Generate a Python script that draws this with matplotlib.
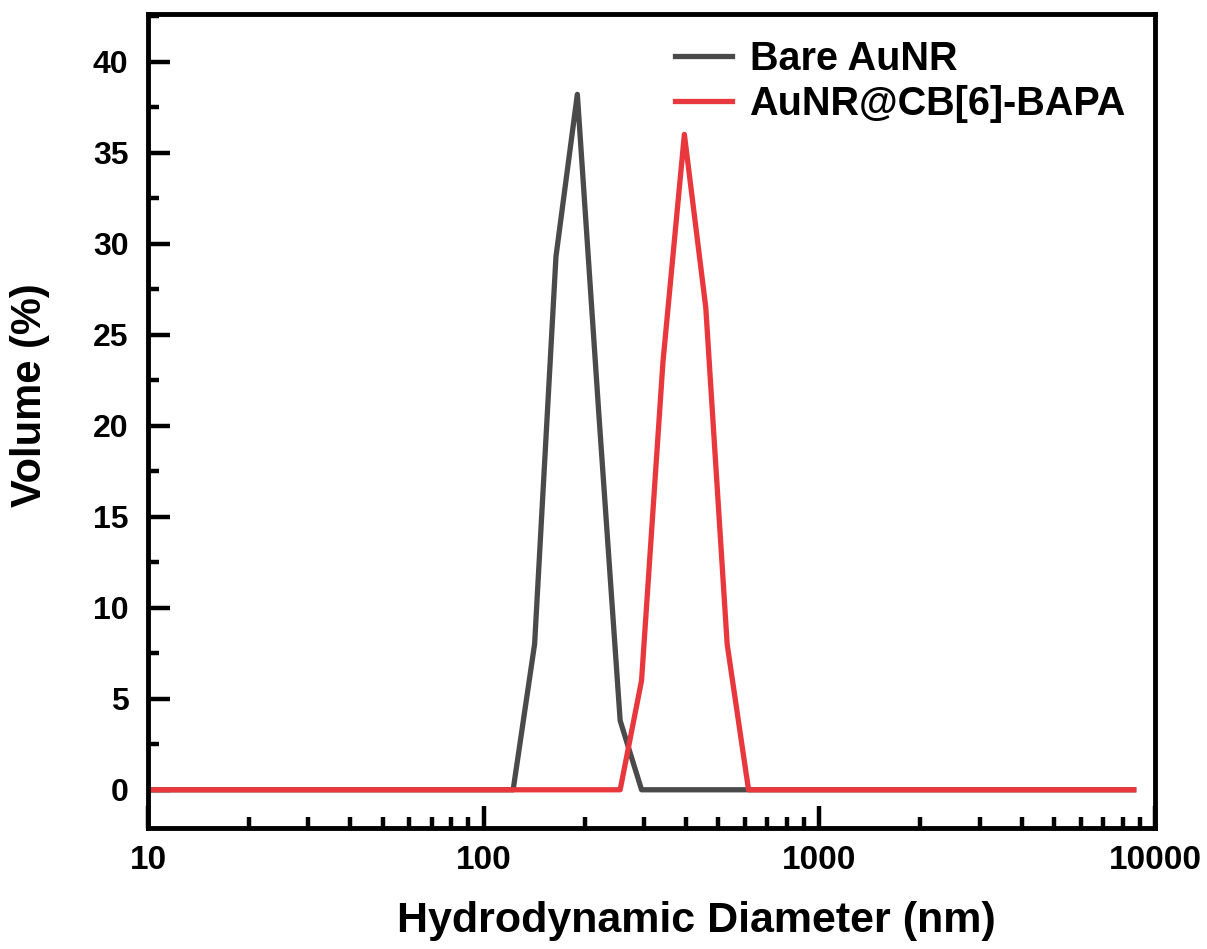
import matplotlib.pyplot as plt
from matplotlib.ticker import FixedLocator, LogLocator, MultipleLocator, NullFormatter

plt.rcParams['font.family'] = ['Liberation Sans', 'DejaVu Sans']
plt.rcParams['font.weight'] = 'bold'

# DLS volume distributions (size bins in nm, volume %)
bare_size = [0.4, 122.4, 141.8, 164.2, 190.1, 220.2, 255.0, 295.3, 8635]
bare_vol = [0, 0, 8.0, 29.3, 38.2, 20.7, 3.8, 0, 0]

cb6_size = [0.4, 255.0, 295.3, 342.0, 396.1, 458.7, 531.2, 615.1, 8635]
cb6_vol = [0, 0, 6.0, 23.5, 36.0, 26.5, 8.0, 0, 0]

labels = ['Bare AuNR', 'AuNR@CB[6]-BAPA']
colors = ['#4a4a4a', '#e8383d']
x_ticks = [10, 100, 1000, 10000]

fig = plt.figure(figsize=(12.07, 9.49), dpi=100)
ax = fig.add_axes([0.1226, 0.1275, 0.8344, 0.8575])

ax.plot(bare_size, bare_vol, color=colors[0], lw=3.8, label=labels[0])
ax.plot(cb6_size, cb6_vol, color=colors[1], lw=3.8, label=labels[1])

ax.set_xscale('log')
ax.set_xlim(10, 10000)
ax.set_ylim(-2.1, 42.6)

ax.xaxis.set_major_locator(FixedLocator(x_ticks))
ax.set_xticklabels([str(t) for t in x_ticks])
ax.xaxis.set_minor_locator(LogLocator(base=10, subs=range(2, 10)))
ax.xaxis.set_minor_formatter(NullFormatter())
ax.yaxis.set_major_locator(MultipleLocator(5))
ax.yaxis.set_minor_locator(MultipleLocator(2.5))

ax.tick_params(which='both', direction='in', top=False, right=False, width=3.2)
ax.tick_params(which='major', length=16)
ax.tick_params(which='minor', length=8)
ax.tick_params(axis='x', which='major', labelsize=24, pad=12)
ax.tick_params(axis='y', which='major', labelsize=23, pad=14)
for lbl in ax.get_xticklabels() + ax.get_yticklabels():
    lbl.set_fontweight('bold')

for sp in ax.spines.values():
    sp.set_linewidth(3.5)

ax.set_xlabel('Hydrodynamic Diameter (nm)', fontsize=31, fontweight='bold')
ax.set_ylabel('Volume (%)', fontsize=30, fontweight='bold')
ax.xaxis.set_label_coords(0.545, -0.09)
ax.yaxis.set_label_coords(-0.097, 0.532)

ax.legend(loc='upper left', frameon=False, fontsize=28.5, handlelength=1.44,
          handletextpad=0.45, labelspacing=0.16, borderpad=0, borderaxespad=0,
          bbox_to_anchor=(0.523, 0.968))

fig.savefig('out.png', dpi=100)
